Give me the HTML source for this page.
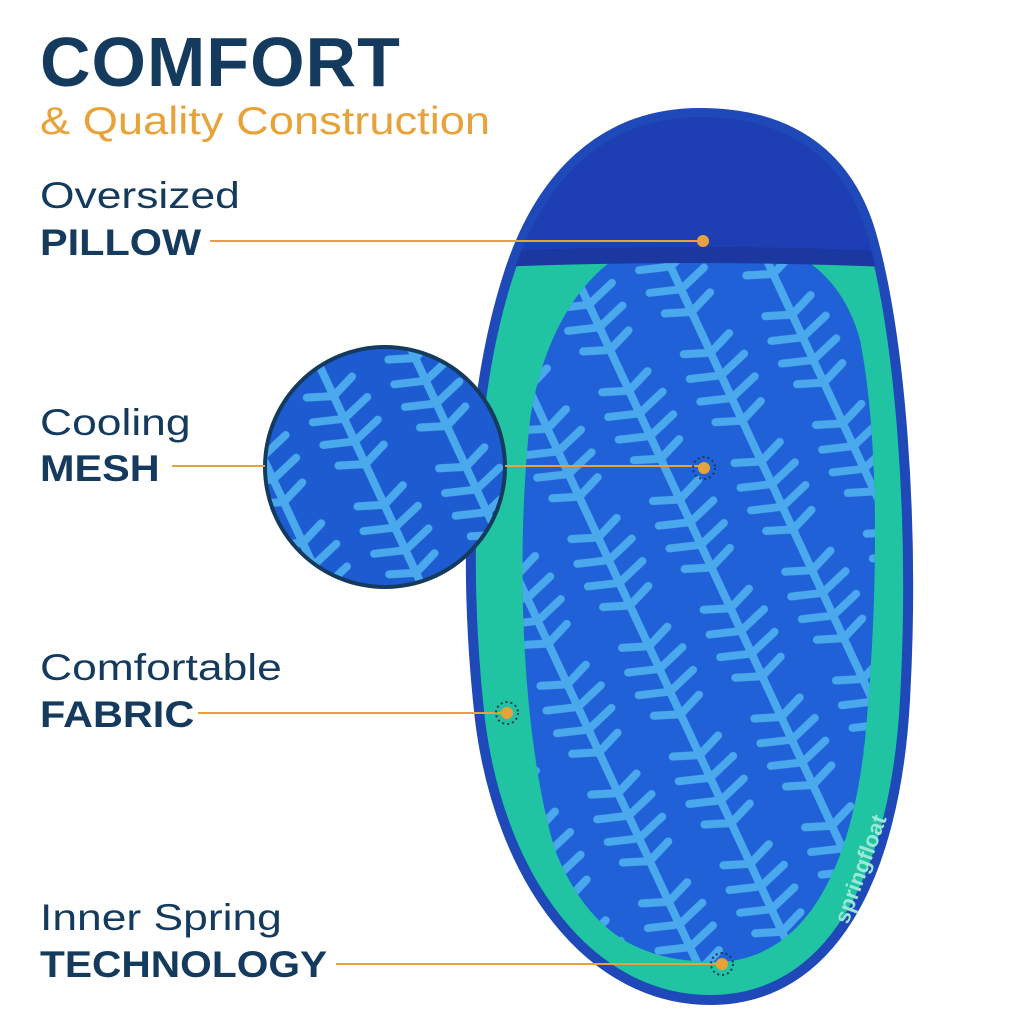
<!DOCTYPE html>
<html><head><meta charset="utf-8"><style>
body{margin:0;width:1024px;height:1024px;background:#fff;position:relative;overflow:hidden;font-family:"Liberation Sans",sans-serif}
.t{position:absolute;left:40px;color:#143a5e;white-space:nowrap;transform-origin:0 0}
</style></head><body>
<svg width="1024" height="1024" style="position:absolute;left:0;top:0">
<defs>
<clipPath id="c"><circle cx="385" cy="467" r="118"/></clipPath>
<path id="op" d="M700 113 C600 113 540 180 510 270 C470 390 462 560 480 720 C500 880 590 1000 710 1000 C830 1000 895 880 905 700 C915 520 900 330 870 230 C845 150 785 113 700 113 Z"/>
<clipPath id="fl"><use href="#op"/></clipPath>
<path id="ip" d="M700 232 C600 232 545 320 530 420 C515 560 522 740 555 850 C595 950 660 962 720 962 C800 958 850 880 865 740 C880 580 878 430 860 340 C840 265 780 232 700 232 Z"/>
<pattern id="lf" width="90" height="120" patternUnits="userSpaceOnUse" patternTransform="rotate(-25)">
<path d="M45 0 L45 120 M45 20 L20 10 M45 20 L70 10 M45 45 L15 35 M45 45 L75 35 M45 70 L15 60 M45 70 L75 60 M45 95 L20 85 M45 95 L70 85" stroke="#4aa8ec" stroke-width="8" stroke-linecap="round"/>
</pattern>
</defs>
<use href="#op" fill="#20c4a2" stroke="#1f49b8" stroke-width="10"/>
<use href="#ip" fill="#2061d8"/>
<use href="#ip" fill="url(#lf)"/>
<g clip-path="url(#fl)">
<path d="M460 100 L920 100 L920 262 Q700 250 460 262 Z" fill="#1d3fb3"/>
<path d="M470 252 Q700 242 910 252 L910 268 Q700 258 470 268 Z" fill="#1a38a0"/>
</g>
<use href="#op" fill="none" stroke="#1f49b8" stroke-width="8"/>
<circle cx="385" cy="467" r="122" fill="#143a5e"/>
<g clip-path="url(#c)"><rect x="260" y="340" width="250" height="260" fill="#1d5bd0"/><rect x="260" y="340" width="250" height="260" fill="url(#lf)"/></g>
<g stroke="#e8a23a" stroke-width="2">
<line x1="210" y1="241" x2="700" y2="241"/>
<line x1="172" y1="466" x2="265" y2="466"/>
<line x1="505" y1="466" x2="700" y2="466"/>
<line x1="198" y1="713" x2="505" y2="713"/>
<line x1="336" y1="964" x2="720" y2="964"/>
</g>
<g fill="#e8a23a">
<circle cx="703" cy="241" r="6"/><circle cx="704" cy="468" r="6"/><circle cx="507" cy="713" r="6"/><circle cx="722" cy="964" r="6"/>
</g>
<g fill="none" stroke="#143a5e" stroke-width="2" stroke-dasharray="2 3">
<circle cx="704" cy="468" r="11"/><circle cx="507" cy="713" r="11"/><circle cx="722" cy="964" r="11"/>
</g>
<text x="848" y="925" transform="rotate(-70 848 925)" font-family="Liberation Sans" font-weight="bold" font-size="22" fill="#9be8d8">springfloat</text>
</svg>
<div class="t" style="top:22px;font-size:70px;font-weight:bold;letter-spacing:1px">COMFORT</div>
<div class="t" style="top:100px;font-size:39px;color:#e8a23a;transform:scaleX(1.16)">&amp; Quality Construction</div>
<div class="t" style="top:175px;font-size:37px;transform:scaleX(1.2)">Oversized</div>
<div class="t" style="top:222px;font-size:37px;font-weight:bold;transform:scaleX(1.12)">PILLOW</div>
<div class="t" style="top:402px;font-size:37px;transform:scaleX(1.2)">Cooling</div>
<div class="t" style="top:448px;font-size:37px;font-weight:bold;transform:scaleX(1.12)">MESH</div>
<div class="t" style="top:647px;font-size:37px;transform:scaleX(1.2)">Comfortable</div>
<div class="t" style="top:694px;font-size:37px;font-weight:bold;transform:scaleX(1.12)">FABRIC</div>
<div class="t" style="top:897px;font-size:37px;transform:scaleX(1.2)">Inner Spring</div>
<div class="t" style="top:944px;font-size:37px;font-weight:bold;transform:scaleX(1.1)">TECHNOLOGY</div>
</body></html>
